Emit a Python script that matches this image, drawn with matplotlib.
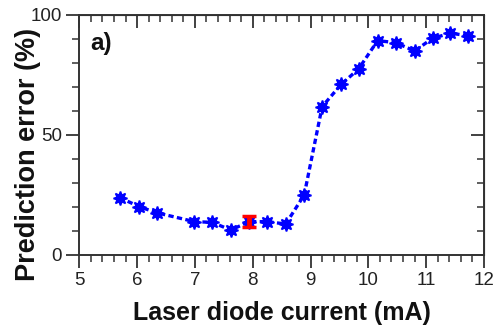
import matplotlib
matplotlib.use("Agg")
import matplotlib.pyplot as plt
from matplotlib.ticker import MultipleLocator

current = [5.70, 6.04, 6.34, 6.99, 7.30, 7.62, 7.94, 8.25, 8.57, 8.89, 9.20,
           9.53, 9.83, 10.16, 10.47, 10.80, 11.11, 11.42, 11.72]
error = [23.9, 20.1, 17.6, 13.9, 13.6, 10.4, 13.9, 13.9, 12.9, 25.0, 61.8,
         71.1, 77.5, 89.3, 88.5, 85.0, 90.3, 92.4, 91.4]
err_x = [7.94]
err_y = [13.9]
err_bar = [2.2]

plt.rcParams['font.family'] = ['Liberation Sans', 'DejaVu Sans']

fig = plt.figure(figsize=(5.0, 3.26), dpi=100)
ax = fig.add_axes([0.1586, 0.2178, 0.968 - 0.1586, 0.954 - 0.2178])

ax.plot(current, error, color='#0000ff', linestyle=(0, (1.6, 1.0)), linewidth=2.4,
        marker=(8, 1, 0), markersize=10, markerfacecolor='#0000ff',
        markeredgecolor='#0000ff', markeredgewidth=1.2, zorder=2)
ax.errorbar(err_x, err_y, yerr=err_bar, fmt='none', ecolor='#ff0000',
            elinewidth=3.5, capsize=5, capthick=2.5, zorder=3)

ax.set_xlim(5, 12)
ax.set_ylim(0, 100)
ax.xaxis.set_major_locator(MultipleLocator(1))
ax.xaxis.set_minor_locator(MultipleLocator(0.2))
ax.yaxis.set_major_locator(MultipleLocator(50))
ax.yaxis.set_minor_locator(MultipleLocator(10))

for s in ax.spines.values():
    s.set_linewidth(1.4)
    s.set_color('#333333')

ax.tick_params(axis='both', which='major', length=9.5, width=1.3, color='#333333',
               labelsize=13.5, pad=3, labelcolor='#222222')
ax.tick_params(axis='both', which='minor', length=5, width=1.1, color='#333333')
ax.tick_params(axis='x', which='both', bottom=True, top=False, direction='out')
ax.tick_params(axis='y', which='both', left=True, right=False, direction='out')

# inward ticks on top and right
axt = ax.secondary_xaxis('top')
axt.xaxis.set_major_locator(MultipleLocator(1))
axt.xaxis.set_minor_locator(MultipleLocator(0.2))
axt.tick_params(which='major', direction='in', length=9.5, width=1.3, color='#333333', labeltop=False)
axt.tick_params(which='minor', direction='in', length=5, width=1.1, color='#333333')
axr = ax.secondary_yaxis('right')
axr.yaxis.set_major_locator(MultipleLocator(50))
axr.yaxis.set_minor_locator(MultipleLocator(10))
axr.tick_params(which='major', direction='in', length=9.5, width=1.3, color='#333333', labelright=False)
axr.tick_params(which='minor', direction='in', length=5, width=1.1, color='#333333')

ax.set_xlabel('Laser diode current (mA)', fontsize=18, fontweight='bold', color='#111111')
ax.xaxis.label.set_va('center')
ax.xaxis.set_label_coords(0.5, -0.242)
ax.set_ylabel('Prediction error (%)', fontsize=19.5, fontweight='bold', color='#111111')
ax.yaxis.label.set_va('center')
ax.yaxis.label.set_ha('center')
ax.yaxis.set_label_coords(-0.127, 0.42)
ax.text(0.027, 0.93, 'a)', transform=ax.transAxes, fontsize=17.5, fontweight='bold',
        va='top', ha='left', color='#111111')

fig.savefig('out.png', dpi=100)
